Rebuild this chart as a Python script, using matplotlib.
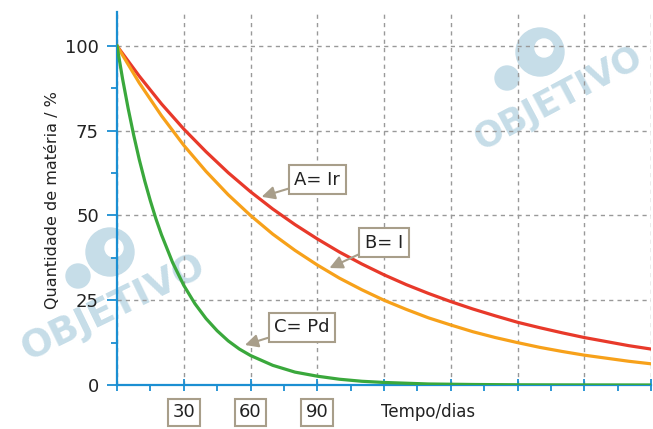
import numpy as np
import matplotlib.pyplot as plt
from matplotlib.patches import Circle

# ---- data ----
dias = [0, 10, 20, 30, 40, 50, 60, 70, 80, 90, 100, 110, 120, 130, 140, 150,
        160, 170, 180, 190, 200, 210, 220, 230, 240]
ir_pct = [100, 91.1, 82.9, 75.5, 68.8, 62.6, 57.0, 51.9, 47.3, 43.1, 39.2, 35.7,
          32.5, 29.6, 27.0, 24.6, 22.4, 20.4, 18.5, 16.9, 15.4, 14.0, 12.8, 11.6, 10.6]
i_pct = [100, 89.1, 79.4, 70.7, 63.0, 56.1, 50.0, 44.5, 39.7, 35.4, 31.5, 28.1,
         25.0, 22.3, 19.8, 17.7, 15.7, 14.0, 12.5, 11.1, 9.9, 8.8, 7.9, 7.0, 6.25]

dias_pd = [0, 2.5, 5, 7.5, 10, 12.5, 15, 17.5, 20, 25, 30, 35, 40, 45, 50, 55, 60,
           70, 80, 90, 100, 110, 120, 140, 160, 180, 200, 240]
pd_pct = [100, 90.3, 81.6, 73.7, 66.5, 60.1, 54.3, 49.0, 44.3, 36.1, 29.4, 24.0,
          19.6, 16.0, 13.0, 10.6, 8.7, 5.8, 3.8, 2.6, 1.7, 1.1, 0.75, 0.3, 0.15,
          0.06, 0.03, 0.0]

xticks_box = [30, 60, 90]
rotulos = ["A= Ir", "B= I", "C= Pd"]

# ---- figure ----
fig = plt.figure(figsize=(6.53, 4.29), dpi=100)
ax = fig.add_axes([117 / 653, 44 / 429, 534 / 653, 373 / 429])

azul = '#1b8fd2'
cinza = '#a89e8a'
texto = '#222222'

# watermarks (behind everything)
wm = '#c6dde8'
fig.text(113 / 653, 1 - 308 / 429, 'OBJETIVO', color=wm, fontsize=27,
         fontweight='bold', rotation=26, ha='center', va='center', zorder=-2)
fig.text(558 / 653, 1 - 98 / 429, 'OBJETIVO', color=wm, fontsize=25,
         fontweight='bold', rotation=28, ha='center', va='center', zorder=-2)
for (cx, cy, r) in [(110, 252, 24), (78, 276, 12), (540, 52, 24), (507, 78, 12)]:
    c = Circle((cx / 100, (429 - cy) / 100), r / 100, transform=fig.dpi_scale_trans,
               color=wm, zorder=-2)
    fig.patches.append(c)
for (cx, cy, r) in [(114, 248, 9), (544, 48, 9)]:
    c = Circle((cx / 100, (429 - cy) / 100), r / 100, transform=fig.dpi_scale_trans,
               color='white', zorder=-1)
    fig.patches.append(c)

ax.patch.set_alpha(0)

ax.plot(dias, ir_pct, color='#e8392a', lw=2.3, zorder=3)
ax.plot(dias, i_pct, color='#f7a11a', lw=2.3, zorder=3)
ax.plot(dias_pd, pd_pct, color='#3aa83c', lw=2.3, zorder=3)

ax.set_xlim(0, 240)
ax.set_ylim(0, 110)

ax.set_xticks(np.arange(0, 241, 30))
ax.set_xticks(np.arange(15, 241, 30), minor=True)
ax.set_xticklabels([])
ax.set_yticks([0, 25, 50, 75, 100])
ax.set_yticks([12.5, 37.5, 62.5, 87.5], minor=True)
ax.set_yticklabels(['0', '25', '50', '75', '100'], fontsize=13, color=texto)

ax.tick_params(axis='x', which='major', direction='inout', length=8, width=1.3, color=azul)
ax.tick_params(axis='x', which='minor', direction='out', length=4, width=1.3, color=azul)
ax.tick_params(axis='y', which='major', direction='out', length=7, width=1.3, color=azul, pad=6)
ax.tick_params(axis='y', which='minor', direction='out', length=4, width=1.3, color=azul)

for s in ['top', 'right']:
    ax.spines[s].set_visible(False)
for s in ['left', 'bottom']:
    ax.spines[s].set_color(azul)
    ax.spines[s].set_linewidth(1.6)

ax.grid(True, which='major', color='#999999', linestyle=(0, (3, 3)), lw=1)
ax.set_axisbelow(True)

ax.set_ylabel('Quantidade de matéria / %', fontsize=11.5, color=texto)
ax.yaxis.set_label_coords(-57 / 534, (385 - 200) / 373 + 0.0)

# boxed x tick labels
for x in xticks_box:
    ax.text(x, -8, str(x), fontsize=13, color=texto, ha='center', va='center',
            clip_on=False,
            bbox=dict(boxstyle='square,pad=0.25', fc='white', ec=cinza, lw=1.5))
ax.text(140, -8, 'Tempo/dias', fontsize=12, color=texto, ha='center', va='center',
        clip_on=False)

# curve labels
pos_txt = [(90, 60.5), (120, 42), (83, 17)]
pos_seta = [(65, 55.5), (95.5, 34.5), (57.5, 11.8)]
for lab, (tx, ty), (sx, sy) in zip(rotulos, pos_txt, pos_seta):
    ax.annotate(lab, xy=(sx, sy), xytext=(tx, ty), fontsize=13, color=texto,
                ha='center', va='center', zorder=5,
                bbox=dict(boxstyle='square,pad=0.3', fc='white', ec=cinza, lw=1.5),
                arrowprops=dict(arrowstyle='-|>,head_length=0.6,head_width=0.3',
                                color=cinza, lw=1.5, shrinkA=0, shrinkB=0))

fig.savefig('out.png', dpi=100)
